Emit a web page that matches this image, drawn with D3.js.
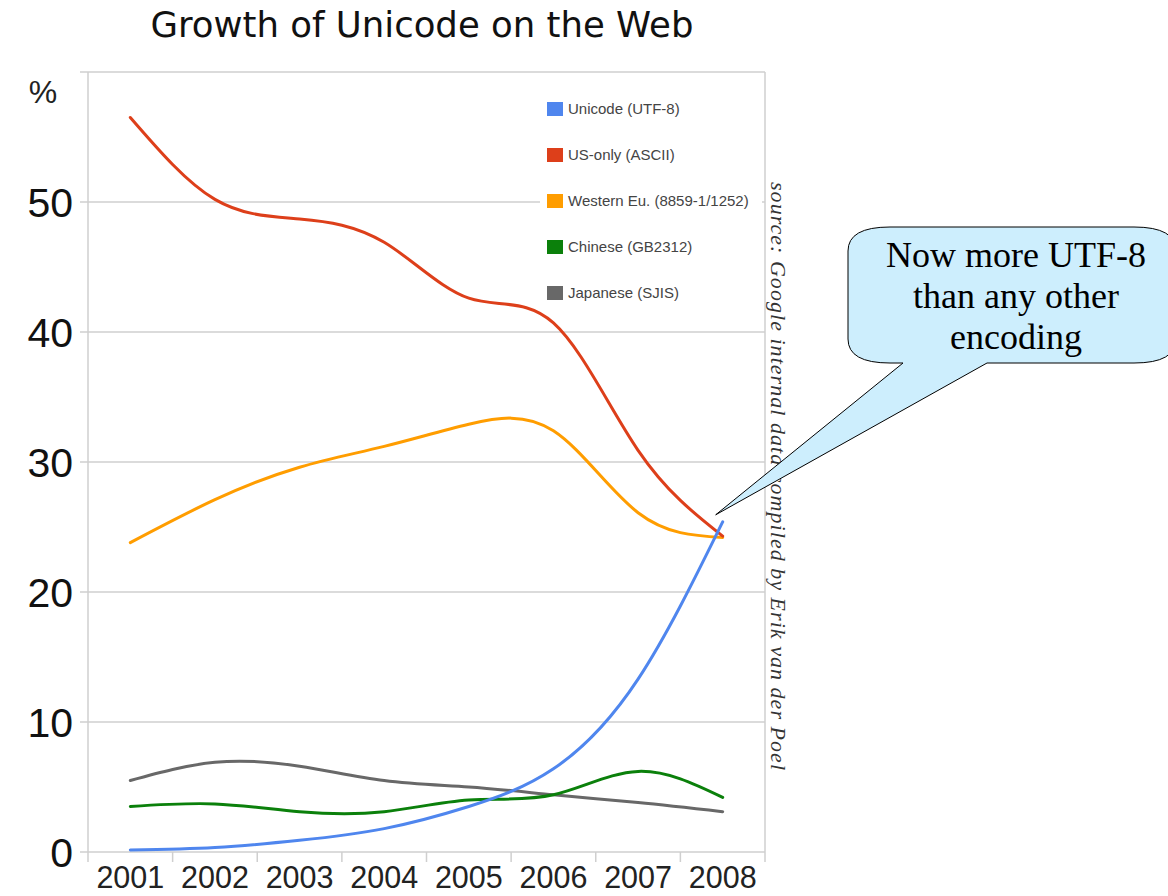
<!DOCTYPE html>
<html lang="en">
<head>
<meta charset="utf-8">
<script src="https://d3js.org/d3.v7.min.js"></script>
<style>
  body { margin: 0; background: #fff; }
</style>
</head>
<body>
<script>
// chart data
const years = ["2001", "2002", "2003", "2004", "2005", "2006", "2007", "2008"];
const yTicks = [0, 10, 20, 30, 40, 50];
const utf8     = [0.15, 0.35, 0.9, 1.8, 3.5, 6.4, 13.3, 25.4];
const ascii    = [56.5, 50.2, 48.7, 46.9, 42.6, 40.7, 30.9, 24.3];
const western  = [23.8, 27.1, 29.6, 31.2, 32.9, 32.4, 26.1, 24.2];
const chinese  = [3.5, 3.7, 3.1, 3.1, 4.0, 4.4, 6.2, 4.2];
const japanese = [5.5, 6.9, 6.6, 5.5, 5.0, 4.4, 3.8, 3.1];
const seriesNames = ["Unicode (UTF-8)", "US-only (ASCII)", "Western Eu. (8859-1/1252)", "Chinese (GB2312)", "Japanese (SJIS)"];
const seriesColors = ["#4f86ee", "#dd3f1a", "#ff9d00", "#0b800b", "#686868"];
const allSeries = [utf8, ascii, western, chinese, japanese];

const W = 1168, H = 896;
const plotL = 88, plotR = 765, plotT = 72, plotB = 852;

const svg = d3.select("body").append("svg")
    .attr("width", W).attr("height", H);

// title
svg.append("text")
    .attr("x", 422).attr("y", 37)
    .attr("text-anchor", "middle")
    .style("font-family", "DejaVu Sans, sans-serif")
    .style("font-size", "35.5px")
    .attr("fill", "#111")
    .text("Growth of Unicode on the Web");

const x = d3.scaleBand().domain(years).range([plotL, plotR]);
const y = d3.scaleLinear().domain([0, 60]).range([plotB, plotT]);

const grid = "#cfcfcf";

// horizontal grid lines incl. top frame
svg.append("g").selectAll("line")
    .data(yTicks.concat([60]))
    .join("line")
    .attr("x1", plotL - 8).attr("x2", plotR)
    .attr("y1", d => y(d)).attr("y2", d => y(d))
    .attr("stroke", grid).attr("stroke-width", 1.5);

// left axis and right frame
svg.append("line").attr("x1", plotL).attr("x2", plotL)
    .attr("y1", plotT).attr("y2", plotB + 10)
    .attr("stroke", grid).attr("stroke-width", 1.5);
svg.append("line").attr("x1", plotR).attr("x2", plotR)
    .attr("y1", plotT).attr("y2", plotB + 10)
    .attr("stroke", grid).attr("stroke-width", 1.5);

// bottom ticks between categories
svg.append("g").selectAll("line")
    .data(years.slice(1))
    .join("line")
    .attr("x1", d => x(d)).attr("x2", d => x(d))
    .attr("y1", plotB).attr("y2", plotB + 10)
    .attr("stroke", grid).attr("stroke-width", 1.5);

// y labels
svg.append("g").selectAll("text")
    .data(yTicks)
    .join("text")
    .attr("x", 73).attr("y", d => y(d) + 15)
    .attr("text-anchor", "end")
    .style("font-family", "Liberation Sans, Arial, sans-serif")
    .style("font-size", "41px")
    .attr("fill", "#111")
    .text(d => d);

svg.append("text")
    .attr("x", 43).attr("y", 103)
    .attr("text-anchor", "middle")
    .style("font-family", "Liberation Sans, Arial, sans-serif")
    .style("font-size", "32px")
    .attr("fill", "#222")
    .text("%");

// x labels
svg.append("g").selectAll("text")
    .data(years)
    .join("text")
    .attr("x", d => x(d) + x.bandwidth() / 2)
    .attr("y", 888)
    .attr("text-anchor", "middle")
    .style("font-family", "Liberation Sans, Arial, sans-serif")
    .style("font-size", "30.5px")
    .attr("fill", "#222")
    .text(d => d);

// legend box (white, hides grid line)
svg.append("rect")
    .attr("x", 540).attr("y", 88)
    .attr("width", 222).attr("height", 222)
    .attr("fill", "#fff");

const legend = svg.append("g").selectAll("g")
    .data(seriesNames)
    .join("g")
    .attr("transform", (d, i) => `translate(547,${109 + i * 46})`);
legend.append("rect")
    .attr("x", 0).attr("y", -7)
    .attr("width", 16).attr("height", 14)
    .attr("fill", (d, i) => seriesColors[i]);
legend.append("text")
    .attr("x", 21).attr("y", 5)
    .style("font-family", "Liberation Sans, Arial, sans-serif")
    .style("font-size", "15px")
    .attr("fill", "#444")
    .text(d => d);

// lines
const line = d3.line()
    .x((d, i) => x(years[i]) + x.bandwidth() / 2)
    .y(d => y(d))
    .curve(d3.curveNatural);

// draw order: japanese, chinese, western, ascii, utf8
[4, 3, 2, 1, 0].forEach(i => {
    svg.append("path")
        .datum(allSeries[i])
        .attr("fill", "none")
        .attr("stroke", seriesColors[i])
        .attr("stroke-width", 3)
        .attr("stroke-linecap", "round")
        .attr("d", line);
});

// rotated source text
svg.append("text")
    .attr("transform", "translate(771,182) rotate(90)")
    .style("font-family", "Liberation Serif, Times New Roman, serif")
    .style("font-style", "italic")
    .style("font-size", "22px")
    .attr("textLength", 588)
    .attr("lengthAdjust", "spacing")
    .attr("fill", "#333")
    .text("source: Google internal data compiled by Erik van der Poel");

// callout
const tipX = x("2008") + x.bandwidth() / 2 - 7;
const tipY = y(utf8[7]) - 7;
const cl = 848, cr = 1176, ct = 227, cb = 363, rx = 42, ry = 24;
const calloutPath = `M${cl + rx},${ct} H${cr - rx} Q${cr},${ct} ${cr},${ct + ry} V${cb - ry}
  Q${cr},${cb} ${cr - rx},${cb} H987 L${tipX},${tipY} L903,${cb} H${cl + rx}
  Q${cl},${cb} ${cl},${cb - ry} V${ct + ry} Q${cl},${ct} ${cl + rx},${ct} Z`;
svg.append("path")
    .attr("d", calloutPath)
    .attr("fill", "#cdeefd")
    .attr("stroke", "#000")
    .attr("stroke-width", 1);

const calloutLines = ["Now more UTF-8", "than any other", "encoding"];
svg.append("g").selectAll("text")
    .data(calloutLines)
    .join("text")
    .attr("x", 1016)
    .attr("y", (d, i) => 267 + i * 41)
    .attr("text-anchor", "middle")
    .style("font-family", "Liberation Serif, Times New Roman, serif")
    .style("font-size", "36px")
    .attr("fill", "#000")
    .text(d => d);
</script>
</body>
</html>
